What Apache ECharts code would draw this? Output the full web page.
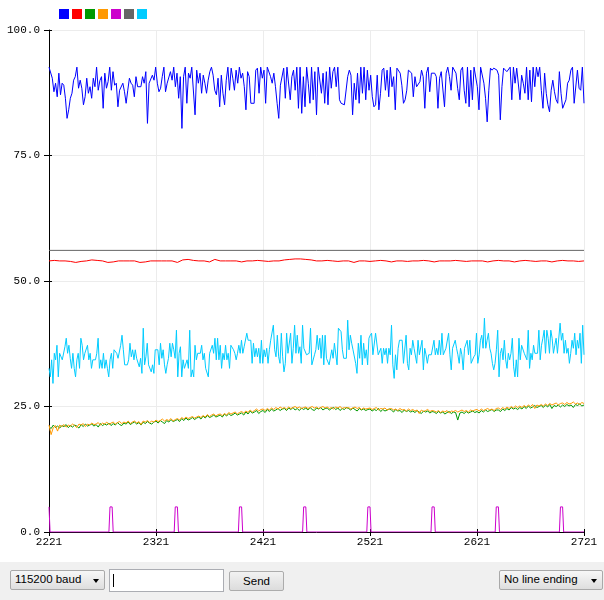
<!DOCTYPE html>
<html>
<head>
<meta charset="utf-8">
<script src="https://cdn.jsdelivr.net/npm/echarts@6/dist/echarts.min.js"></script>
<style>
  html, body { margin: 0; padding: 0; background: #fff; }
  #chart { position: absolute; left: 0; top: 0; width: 604px; height: 562px; }
  #bar { position: absolute; left: 0; top: 562px; width: 604px; height: 38px; background: #f0f0f0;
         font-family: "Liberation Sans", Arial, sans-serif; font-size: 11.5px; color: #000; }
  .combo { position: absolute; box-sizing: border-box; border: 1px solid #a9a9a9; border-radius: 2px;
           background: linear-gradient(#f7f7f7, #dedede); padding-left: 4px; line-height: 17px; }
  .arrow { position: absolute; right: 5px; top: 8px; width: 0; height: 0;
           border-left: 3.5px solid transparent; border-right: 3.5px solid transparent; border-top: 4px solid #000; }
  .input { position: absolute; box-sizing: border-box; border: 1px solid #abadb3; background: #fff; }
  .caret { position: absolute; left: 3px; top: 4px; width: 1px; height: 13px; background: #000; }
  .btn { position: absolute; box-sizing: border-box; border: 1px solid #acacac; border-radius: 2px;
         background: linear-gradient(#f2f2f2, #dcdcdc); text-align: center; line-height: 18px; }
</style>
</head>
<body>
<div id="chart"></div>
<div id="bar">
  <div class="combo" style="left:10px;top:8px;width:95px;height:20px;">115200 baud<span class="arrow"></span></div>
  <div class="input" style="left:109px;top:7px;width:115px;height:23px;"><span class="caret"></span></div>
  <div class="btn" style="left:229px;top:9px;width:55px;height:20px;">Send</div>
  <div class="combo" style="left:499px;top:8px;width:104px;height:20px;">No line ending<span class="arrow"></span></div>
</div>
<script>
// ---- data ----
const X_FIRST = 2221;
const X_LAST = 2721;
const X_TICKS = [2221, 2321, 2421, 2521, 2621, 2721];
const SERIES_NAMES = ['1', '2', '3', '4', '5', '6', '7'];

const BLUE = [
92.6,92.6,90.4,87.7,89.4,86.7,91.4,87.1,89.4,89.0,86.4,82.4,84.1,86.4,87.4,90.0,90.7,92.6,88.4,90.0,
88.4,85.1,86.7,90.4,87.4,88.7,86.4,90.4,88.7,92.6,88.0,89.9,90.7,84.4,91.4,88.4,89.7,92.6,88.0,91.7,
89.0,89.4,84.7,88.0,88.0,89.4,87.7,85.4,88.0,90.4,89.4,89.0,86.7,90.7,88.7,88.4,88.7,90.7,89.4,91.7,
81.4,89.4,89.7,91.0,90.0,92.6,89.4,87.7,88.4,90.7,92.6,87.7,89.4,89.7,91.7,90.0,92.6,88.7,91.4,86.4,
90.7,80.4,90.7,92.6,85.4,91.4,90.4,92.6,92.4,83.1,92.0,89.4,91.4,87.4,91.0,89.4,87.4,90.0,91.7,92.6,
91.0,88.0,87.1,90.4,84.7,91.0,87.4,85.1,90.0,92.6,88.0,92.4,90.4,88.0,92.0,89.4,92.6,90.4,91.4,88.7,
84.1,91.7,90.7,85.4,85.3,85.4,92.0,92.4,87.4,92.6,90.4,92.0,85.4,92.6,92.4,90.7,89.4,91.4,88.7,85.4,
82.4,89.0,88.7,92.4,86.4,92.6,92.6,86.1,90.7,92.0,88.0,
92.6,84.4,92.6,83.4,90.7,84.7,92.6,89.4,85.4,92.6,86.1,91.7,83.1,92.6,92.6,87.4,91.4,85.4,91.7,85.1,
92.6,88.4,91.7,92.6,88.7,92.6,86.1,85.4,85.1,85.1,85.1,90.7,92.0,91.0,83.1,89.4,86.1,91.4,85.4,92.6,
87.4,92.6,86.1,92.0,88.0,91.0,86.7,84.7,85.1,91.0,84.1,87.4,92.0,92.4,88.0,92.0,86.7,92.6,88.7,90.7,
84.1,92.4,92.6,91.4,89.0,85.4,86.1,88.0,92.0,91.7,91.4,86.7,90.7,88.7,89.0,89.7,92.0,90.7,84.4,91.4,
92.6,87.7,91.4,91.7,91.4,90.7,84.4,90.4,91.7,92.0,84.7,91.4,92.6,90.7,88.0,92.6,92.4,91.4,88.4,86.1,
92.0,92.6,88.0,85.4,92.6,84.7,92.0,86.1,92.6,92.4,88.7,84.1,92.6,92.6,89.4,86.4,81.7,88.0,92.4,92.0,
92.4,92.6,92.0,91.0,82.1,88.7,92.4,92.6,91.7,92.0,92.6,86.1,92.6,89.4,92.4,92.6,86.1,91.0,89.4,87.4,
92.6,86.1,92.0,85.7,92.6,88.7,92.6,90.7,92.6,88.0,84.4,91.4,87.4,85.1,83.7,88.0,90.0,87.7,86.1,85.4,
91.7,87.4,84.4,84.1,86.1,89.4,90.0,92.0,92.6,85.4,85.4,92.0,88.4,88.0,92.6,85.4
];

const CYAN = [
32.6,30.9,34.3,29.6,35.6,34.3,37.2,30.9,35.6,35.6,34.3,34.3,36.9,38.6,35.6,37.2,34.6,32.6,35.6,32.6,
30.9,34.3,35.6,32.6,38.6,37.2,34.3,35.6,35.6,37.2,34.3,35.6,32.6,34.3,34.3,34.3,35.6,38.6,32.6,34.3,
32.6,35.6,32.6,34.3,32.6,30.9,34.3,35.6,32.6,36.3,36.3,35.6,34.6,34.3,37.2,39.2,36.3,33.3,33.3,33.3,
34.3,37.6,34.9,36.3,34.3,36.3,34.6,34.6,32.9,34.6,31.6,40.6,33.3,34.9,37.6,33.3,33.3,31.9,33.3,31.6,
36.3,36.3,36.3,33.3,37.6,34.6,36.3,33.3,31.6,33.3,34.6,37.6,34.9,37.6,36.3,34.6,40.2,30.9,35.6,36.9,
30.9,34.3,32.6,32.6,34.3,32.6,40.2,30.9,32.3,30.9,37.2,34.3,35.6,35.6,35.6,37.2,34.3,35.6,32.6,32.6,
30.9,35.6,35.6,37.2,35.6,38.6,34.3,38.6,34.3,37.2,32.6,35.6,34.3,37.2,34.3,35.6,32.6,37.2,37.2,36.3,
35.6,34.3,35.6,37.2,35.6,38.2,35.6,36.9,36.9,39.6,38.2,38.2,38.2,33.6,37.6,34.9,36.6,34.9,36.6,33.6,
38.2,33.6,36.3,34.9,36.6,33.6,36.3,38.2,38.2,41.2,36.3,34.9,39.2,34.9,33.6,39.6,34.9,31.9,33.6,39.6,
35.6,35.3,39.6,33.6,36.6,41.2,35.6,39.2,35.6,36.9,33.6,41.2,36.6,36.6,35.3,35.6,35.6,40.6,33.3,33.3,
35.3,36.3,39.2,36.3,38.6,
34.6,39.2,33.3,39.2,34.6,34.6,33.3,33.3,36.3,34.6,37.6,37.6,33.3,40.6,40.6,39.9,36.3,34.6,34.6,34.6,
42.2,36.3,39.2,37.6,36.3,36.3,33.6,31.6,37.6,34.6,39.2,33.3,37.6,34.6,36.3,33.3,38.6,39.2,39.6,35.3,
35.3,39.6,39.6,35.3,35.3,36.6,33.6,36.6,35.3,36.6,33.6,36.6,35.3,41.2,33.3,30.6,35.3,32.3,36.6,38.2,
38.2,38.2,33.6,33.6,39.2,33.6,32.3,36.6,35.3,38.2,36.6,36.6,33.6,38.2,35.3,35.3,38.2,32.3,36.6,35.3,
33.6,35.3,35.3,35.3,35.3,38.2,35.3,36.6,35.3,38.2,35.3,39.6,35.3,35.3,36.6,36.9,39.6,35.3,32.3,36.6,
36.6,38.2,36.6,35.3,33.6,36.6,35.3,32.3,36.6,36.6,38.2,35.3,38.2,33.6,33.6,34.9,35.3,39.6,33.6,35.3,
38.2,39.2,36.6,42.6,36.6,38.2,39.6,36.6,35.6,33.6,32.3,33.6,36.3,40.2,30.9,35.6,36.6,34.3,38.2,34.3,
32.6,35.6,34.3,35.6,38.6,32.9,30.9,34.3,30.9,38.6,34.3,37.2,37.2,35.6,35.6,34.3,40.2,32.6,35.6,34.3,
37.2,35.6,35.6,35.6,40.2,34.3,37.2,38.6,40.2,35.6,40.2,38.6,35.6,40.2,38.6,35.6,37.2,38.6,35.6,35.6,
41.6,38.2,39.6,35.6,38.2,35.6,36.6,33.6,35.6,38.2,36.6,39.6,35.3,38.2,36.6,39.6,33.6,41.2,35.3
];

const GREEN = [
21.0,20.6,21.3,20.8,21.1,20.7,21.2,21.0,21.4,20.8,
21.2,20.9,21.3,21.1,20.7,21.4,21.0,21.5,21.1,21.3,
21.5,21.1,21.4,20.9,21.6,21.2,21.5,21.3,21.7,21.2,
21.6,21.3,21.8,21.4,21.2,21.7,21.5,21.9,21.4,21.7,
21.9,21.5,21.8,21.3,21.9,21.6,22.0,21.7,21.5,21.9,
22.1,21.7,22.2,21.9,21.6,22.2,21.9,22.4,22.0,22.2,
22.4,22.0,22.6,22.2,22.7,22.3,22.5,22.8,22.4,22.7,
22.9,22.5,23.1,22.7,23.2,22.8,23.0,23.3,22.9,23.1,
23.3,22.9,23.5,23.1,23.6,23.2,23.4,23.7,23.3,23.5,
23.7,23.3,23.9,23.5,24.1,23.7,23.9,24.2,23.6,24.0,
24.2,23.8,24.4,24.0,24.5,24.1,24.3,24.6,24.2,24.5,
24.6,24.2,24.7,24.4,24.8,24.3,24.6,24.2,24.7,24.4,
24.7,24.3,24.8,24.4,24.2,24.7,24.5,24.8,24.3,24.6,
24.7,24.3,24.6,24.8,24.4,24.7,24.2,24.6,24.4,24.8,
24.6,24.3,24.7,24.4,24.1,24.6,24.3,24.5,24.2,24.4,
24.5,24.1,24.4,24.2,24.6,24.0,24.4,24.1,24.3,24.5,
24.3,23.9,24.4,24.1,24.2,23.8,24.3,24.0,24.2,23.9,
24.1,23.8,24.2,23.9,23.6,24.1,23.9,24.1,23.7,24.0,
23.9,23.6,24.0,23.7,23.9,23.5,23.8,24.0,23.6,23.9,
23.8,22.3,23.7,23.9,23.6,24.0,23.7,23.9,24.1,23.8,
24.0,23.7,24.2,23.9,24.3,24.0,24.2,24.4,24.0,24.3,
24.3,24.0,24.5,24.2,24.6,24.3,24.8,24.5,24.7,24.4,
24.8,24.5,25.0,24.6,25.1,24.7,24.9,25.2,24.8,25.0,
25.2,24.8,25.3,24.9,25.4,24.6,25.2,25.0,25.3,24.9,
25.3,25.0,25.4,25.1,25.3,24.8,25.4,25.2,25.5,25.1,
25.3
];

const ORANGE = [
21.3,19.4,20.8,21.2,20.1,21.3,21.0,21.4,20.9,21.3,
21.1,21.5,21.2,20.8,21.5,21.3,21.6,21.0,21.5,21.3,
21.7,21.4,21.5,21.8,21.3,21.7,21.5,21.9,21.4,21.7,
21.9,21.5,21.8,22.0,21.6,21.9,21.7,22.1,21.6,21.9,
22.1,21.7,22.0,21.4,22.1,21.9,22.2,21.8,22.1,21.9,
22.3,22.0,22.2,22.5,22.1,22.4,22.2,22.6,22.1,22.4,
22.6,22.3,22.8,22.5,22.9,22.6,22.8,23.0,22.7,22.9,
23.1,22.8,23.2,22.9,23.4,23.0,23.3,23.5,23.1,23.4,
23.5,23.2,23.6,23.3,23.8,23.5,23.7,23.9,23.5,23.8,
24.0,23.7,24.1,23.8,24.3,23.9,24.2,24.5,24.1,24.4,
24.5,24.2,24.6,24.3,24.7,24.4,24.8,24.5,24.9,24.6,
24.8,24.5,24.9,24.6,24.8,25.0,24.7,24.9,24.6,24.8,
24.9,24.6,24.8,25.0,24.7,24.9,24.6,24.8,25.0,24.7,
24.9,24.6,24.8,24.5,24.9,24.7,25.0,24.6,24.8,24.7,
24.8,24.5,24.7,24.9,24.6,24.8,24.4,24.7,24.5,24.6,
24.7,24.4,24.6,24.8,24.3,24.6,24.5,24.7,24.3,24.5,
24.6,24.3,24.5,24.2,24.6,24.3,24.4,24.1,24.5,24.2,
24.4,24.1,24.3,23.6,24.3,24.0,24.2,24.4,24.0,24.2,
24.1,23.9,24.2,23.8,24.1,23.9,24.2,23.7,24.1,24.0,
24.2,23.9,24.1,24.3,24.0,24.2,23.9,24.3,24.1,24.3,
24.4,24.1,24.5,24.2,24.4,24.6,24.3,24.5,24.2,24.6,
24.7,24.4,24.8,24.5,24.9,24.6,25.0,24.7,25.1,24.8,
25.1,24.8,25.2,24.9,25.3,25.0,25.4,24.6,25.3,25.1,
25.4,25.1,25.5,25.2,25.6,25.3,25.5,25.7,25.3,25.6,
25.7,25.4,25.8,25.5,25.6,25.9,25.5,25.7,25.4,25.8,
25.6
];

const RED = [
54.0,54.1,54.0,54.0,53.9,53.7,53.9,54.0,54.2,54.1, 54.0,53.7,53.8,54.0,54.0,54.0,54.0,53.7,53.8,54.0,
54.0,54.0,54.0,54.0,53.7,54.2,54.3,54.1,54.0,54.0, 53.8,54.3,54.0,54.0,54.0,54.0,53.8,54.0,54.0,54.1,
54.0,53.9,54.0,54.0,54.2,54.3,54.4,54.4,54.3,54.2, 54.0,54.0,54.1,54.0,53.9,54.0,54.0,53.7,54.0,54.0,
53.9,54.0,54.1,54.0,53.8,54.0,54.0,53.9,54.0,54.0, 54.1,54.0,53.8,54.0,54.0,54.0,54.1,54.0,53.9,54.0,
54.0,54.0,53.8,54.0,54.1,54.0,54.0,53.8,54.0,54.1, 54.0,53.9,54.0,54.0,53.8,54.0,54.1,54.0,54.0,53.9,
54.0
];

const GRAY = [[2221, 56.1], [2721, 56.1]];

const MAGENTA = [
[2221, 5], [2222, 0],
[2277, 0], [2278, 5], [2280, 5], [2281, 0],
[2338, 0], [2339, 5], [2341, 5], [2342, 0],
[2398, 0], [2399, 5], [2401, 5], [2402, 0],
[2458, 0], [2459, 5], [2461, 5], [2462, 0],
[2518, 0], [2519, 5], [2521, 5], [2522, 0],
[2578, 0], [2579, 5], [2581, 5], [2582, 0],
[2638, 0], [2639, 5], [2641, 5], [2642, 0],
[2698, 0], [2699, 5], [2701, 5], [2702, 0],
[2721, 0]
];

const COLORS = ['#0000ff', '#ff0000', '#009900', '#ff9900', '#cc00cc', '#666666', '#00ccff'];

// ---- build ----
function spread(values) {
  const n = values.length;
  return values.map((v, i) => [X_FIRST + i * (X_LAST - X_FIRST) / (n - 1), v]);
}

const seriesData = [spread(BLUE), spread(RED), spread(GREEN), spread(ORANGE), MAGENTA, GRAY, spread(CYAN)];

const MONO = { fontFamily: '"Liberation Mono", "DejaVu Sans Mono", monospace', fontSize: 11, color: '#000' };

const chart = echarts.init(document.getElementById('chart'), null, { renderer: 'canvas' });
chart.setOption({
  animation: false,
  backgroundColor: '#fff',
  color: COLORS,
  legend: {
    left: 59, top: 9, padding: 0, itemWidth: 10, itemHeight: 10, itemGap: 3,
    icon: 'rect', formatter: () => '', selectedMode: false,
    data: SERIES_NAMES
  },
  grid: { left: 49, right: 20, top: 30, bottom: 30, containLabel: false },
  xAxis: [{
    type: 'value', min: X_FIRST, max: X_LAST,
    axisLine: { show: true, lineStyle: { color: '#000', width: 1 } },
    axisTick: { show: true, length: 4, customValues: X_TICKS, lineStyle: { color: '#000' } },
    axisLabel: { ...MONO, margin: 5, customValues: X_TICKS, formatter: v => String(v) },
    splitLine: { show: true, lineStyle: { color: '#ececec', width: 1 } }
  }, {
    type: 'value', min: X_FIRST, max: X_LAST, position: 'bottom',
    axisLine: { show: false },
    axisTick: { show: true, inside: true, length: 3, customValues: X_TICKS, lineStyle: { color: '#000' } },
    axisLabel: { show: false, customValues: X_TICKS },
    splitLine: { show: false }
  }],
  yAxis: [{
    type: 'value', min: 0, max: 100, interval: 25,
    axisLine: { show: true, lineStyle: { color: '#000', width: 1 } },
    axisTick: { show: true, length: 5, lineStyle: { color: '#000' } },
    axisLabel: { ...MONO, margin: 9, formatter: v => v.toFixed(1) },
    splitLine: { show: true, lineStyle: { color: '#ececec', width: 1 } }
  }, {
    type: 'value', min: 0, max: 100, interval: 25, position: 'left',
    axisLine: { show: false },
    axisTick: { show: true, inside: true, length: 3, lineStyle: { color: '#000' } },
    axisLabel: { show: false },
    splitLine: { show: false }
  }],
  series: SERIES_NAMES.map((name, i) => ({
    name: name,
    type: 'line',
    xAxisIndex: 0, yAxisIndex: 0,
    data: seriesData[i],
    showSymbol: false,
    symbol: 'none',
    lineStyle: { width: 1, color: COLORS[i] },
    itemStyle: { color: COLORS[i] },
    emphasis: { disabled: true },
    silent: true,
    z: i === 5 ? 1 : 2
  }))
});
</script>
</body>
</html>
